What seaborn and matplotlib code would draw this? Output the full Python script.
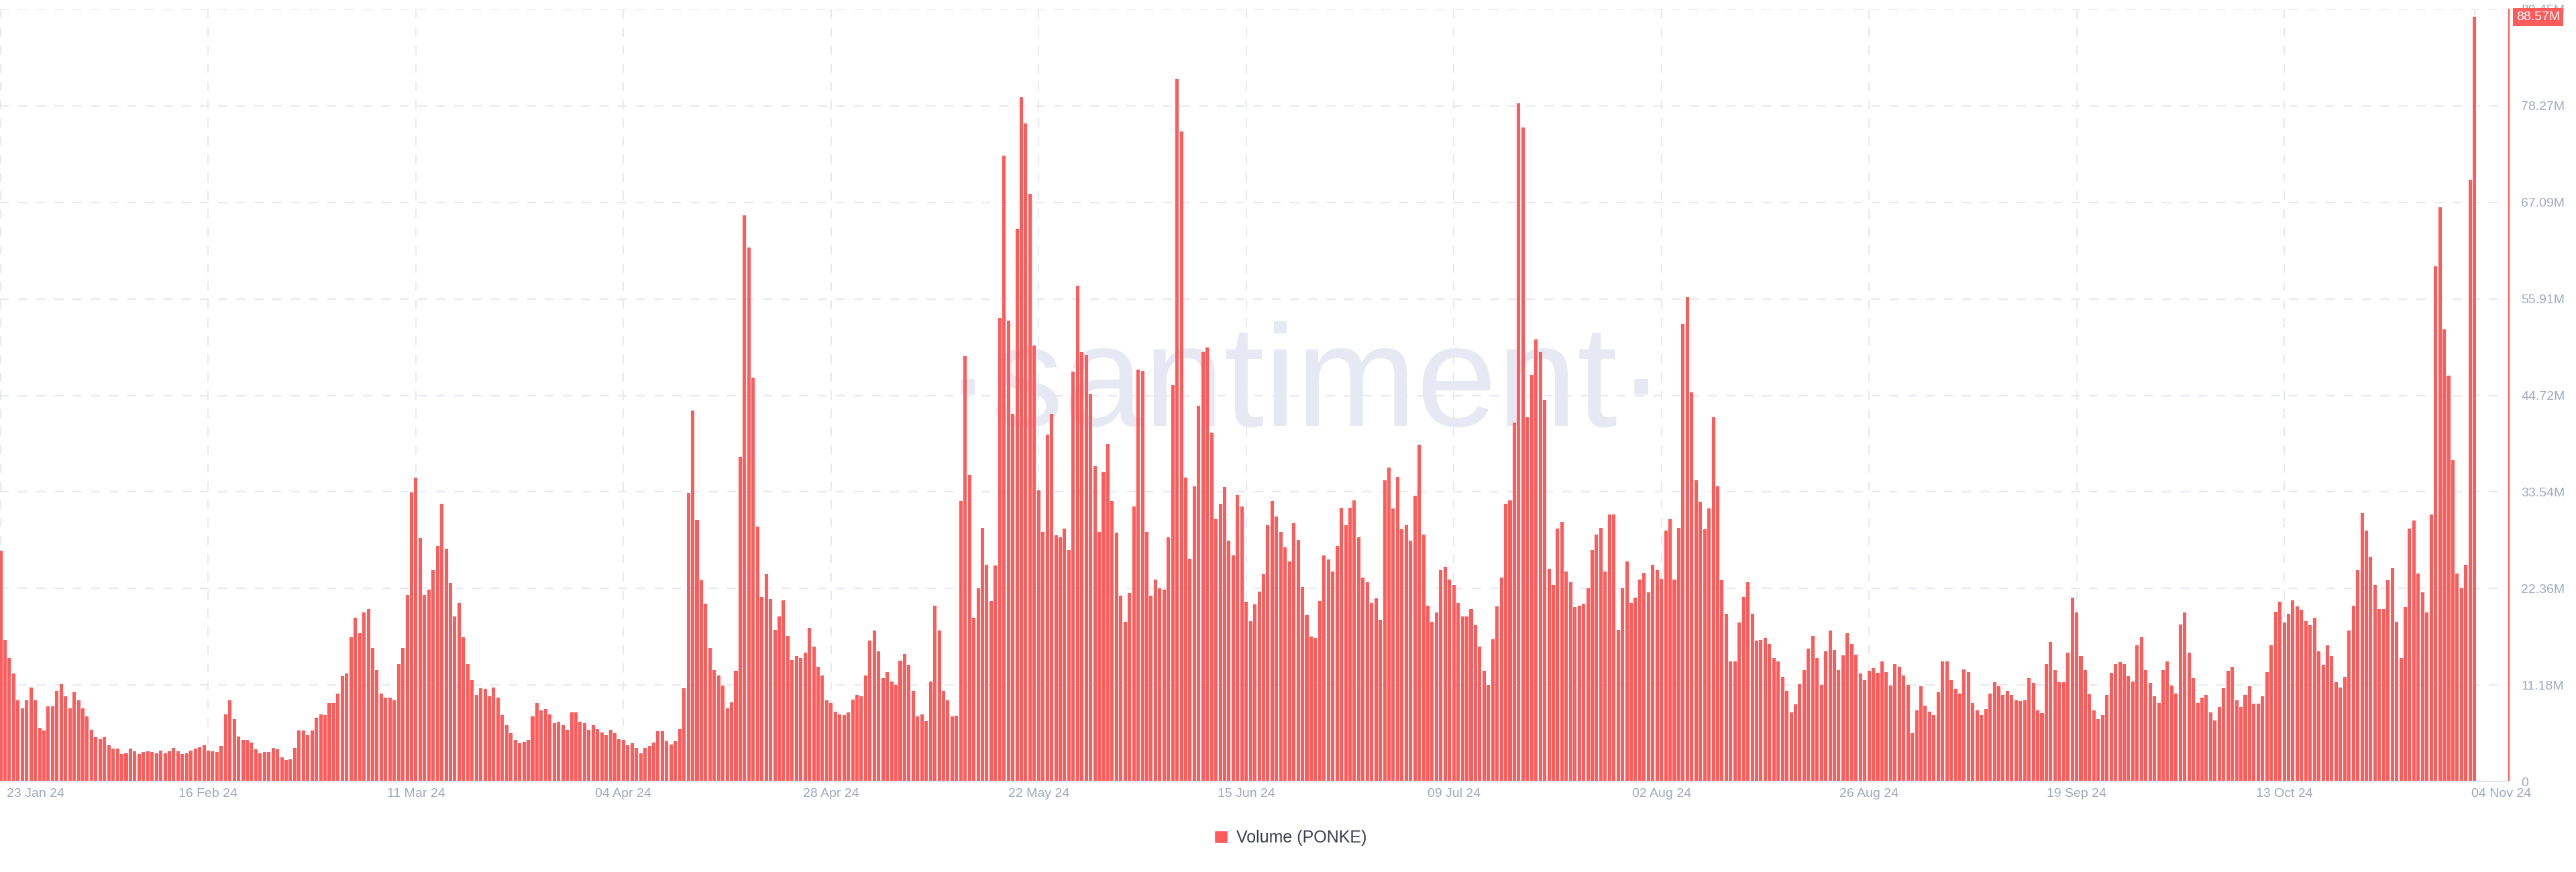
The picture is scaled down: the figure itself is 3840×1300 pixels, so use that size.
import numpy as np
import pandas as pd
import matplotlib
matplotlib.use("Agg")
import matplotlib.pyplot as plt
import matplotlib.transforms as mtransforms
from matplotlib.patches import Patch
import seaborn as sns

# volume in millions, two bars per day left to right
vol_jan_feb = [26.7, 16.4, 14.3, 12.5, 9.4, 8.5, 9.4, 10.9, 9.4, 6.2,
               5.9, 8.7, 8.7, 10.5, 11.3, 9.9, 8.5, 10.3, 9.4, 8.5,
               7.5, 6.0, 5.1, 4.9, 5.1, 4.2, 3.8, 3.8, 3.2, 3.3,
               3.8, 3.5, 3.2, 3.4, 3.5, 3.4, 3.3, 3.6, 3.3, 3.5,
               3.9, 3.5, 3.2, 3.3, 3.6, 3.8, 4.0, 4.2, 3.6, 3.5,
               3.4, 4.1, 7.8, 9.4, 7.2, 5.2, 4.8, 4.8]
vol_feb_mar = [4.5, 3.7, 3.3, 3.4, 3.4, 3.9, 3.7, 2.8, 2.5, 2.6,
               3.9, 5.9, 5.9, 5.4, 5.9, 7.4, 7.8, 7.7, 9.1, 9.1,
               10.2, 12.2, 12.5, 16.7, 19.0, 17.2, 19.6, 20.0, 15.5, 12.9,
               10.2, 9.7, 9.7, 9.4, 13.6, 15.5, 21.6, 33.5, 35.2, 28.2,
               21.6, 22.2, 24.5, 27.3, 32.2, 27.0, 23.0, 19.1, 20.7, 16.7,
               13.6, 11.7, 10.0, 10.8, 10.7, 9.9, 10.9]
vol_mar_apr = [9.7, 7.7, 6.5, 5.6, 4.8, 4.4, 4.6, 4.8, 7.5, 9.1,
               8.2, 8.4, 7.8, 6.8, 6.9, 6.5, 6.0, 8.0, 8.0, 6.9,
               6.8, 6.0, 6.5, 6.1, 5.7, 5.4, 6.0, 5.6, 4.9, 4.8,
               4.2, 4.4, 3.9, 3.3, 3.9, 4.1, 4.5, 5.8, 5.8, 4.7,
               4.3, 4.7, 6.1, 10.8, 33.4, 43.0, 30.3, 23.3, 20.6, 15.5,
               12.9, 12.3, 11.1, 8.5, 9.2, 12.8, 37.6]
vol_apr_may = [65.6, 61.9, 46.8, 29.5, 21.4, 24.0, 21.1, 17.6, 19.1, 21.0,
               16.9, 14.1, 14.5, 14.3, 14.9, 17.8, 15.6, 13.3, 12.3, 9.4,
               9.1, 8.1, 7.8, 7.7, 8.0, 9.5, 10.0, 9.9, 12.3, 16.3,
               17.5, 15.1, 12.0, 12.7, 11.6, 11.2, 14.0, 14.8, 13.5, 10.5,
               7.5, 7.8, 7.0, 11.6, 20.4, 17.5, 10.5, 9.4, 7.5, 7.6,
               32.5, 49.3, 35.5, 19.0, 22.4, 29.4, 25.1, 20.9]
vol_may_jun = [25.0, 53.7, 72.5, 53.4, 42.6, 64.0, 79.3, 76.2, 68.1, 50.5,
               33.7, 28.9, 40.2, 42.6, 28.5, 28.3, 29.3, 26.8, 47.5, 57.4,
               49.7, 49.4, 44.9, 36.5, 28.9, 35.8, 39.1, 32.5, 28.8, 21.5,
               18.5, 21.8, 31.9, 47.7, 47.6, 28.9, 21.5, 23.4, 22.4, 22.2,
               28.3, 45.9, 81.4, 75.3, 35.2, 25.8, 34.2, 43.5, 49.7, 50.3,
               40.4, 30.4, 32.2, 34.1, 27.9, 26.2, 33.2]
vol_jun_jul = [31.9, 20.8, 18.6, 20.5, 22.0, 24.0, 29.7, 32.5, 30.7, 28.9,
               27.1, 25.5, 29.9, 28.0, 22.5, 19.3, 16.8, 16.6, 20.9, 26.2,
               25.7, 24.3, 27.3, 31.7, 29.7, 31.7, 32.6, 28.3, 23.6, 23.1,
               20.7, 21.2, 18.7, 34.9, 36.4, 31.6, 35.3, 29.2, 29.7, 27.9,
               33.1, 39.0, 28.6, 20.4, 18.5, 19.6, 24.5, 24.9, 23.4, 22.8,
               20.7, 19.1, 19.1, 20.0, 18.1, 15.6, 12.8, 11.2]
vol_jul_aug = [16.5, 20.3, 23.6, 32.2, 32.6, 41.6, 78.6, 75.8, 42.2, 47.1,
               51.2, 49.7, 44.2, 24.6, 22.8, 29.3, 30.1, 24.3, 23.1, 20.2,
               20.4, 20.6, 22.4, 26.8, 28.6, 29.4, 24.3, 30.9, 30.9, 17.6,
               22.4, 25.5, 20.7, 21.3, 23.4, 24.2, 21.9, 25.1, 24.5, 23.5,
               29.1, 30.4, 23.4, 29.4, 53.0, 56.1, 45.1, 34.9, 32.4, 29.2,
               31.6, 42.2, 34.2, 23.3, 19.4, 13.9, 13.9]
vol_aug_sep = [18.4, 21.4, 23.1, 19.4, 16.3, 16.4, 16.6, 15.9, 14.3, 13.9,
               12.1, 10.5, 8.0, 8.9, 11.3, 12.9, 15.4, 16.9, 14.3, 11.2,
               15.1, 17.5, 15.2, 12.9, 14.6, 17.2, 15.9, 14.7, 12.5, 11.7,
               12.8, 13.1, 12.6, 13.9, 12.7, 11.1, 13.6, 13.3, 12.3, 11.2,
               5.6, 8.2, 11.0, 8.8, 8.1, 7.7, 10.3, 13.9, 13.9, 11.7,
               10.7, 10.2, 13.0, 12.7, 9.1, 8.2, 7.7]
vol_sep_oct = [8.4, 10.2, 11.5, 11.0, 10.0, 10.5, 10.0, 9.4, 9.3, 9.4,
               12.0, 11.4, 8.2, 7.9, 13.6, 16.2, 12.9, 11.5, 11.5, 14.9,
               21.3, 19.6, 14.5, 12.9, 10.1, 8.2, 7.2, 7.7, 10.0, 12.6,
               13.6, 13.8, 13.6, 12.2, 11.6, 15.8, 16.7, 12.9, 11.4, 9.9,
               9.1, 12.9, 13.9, 11.1, 10.2, 18.2, 19.6, 14.9, 12.0, 9.1,
               9.7, 10.0, 8.0, 7.1, 8.6, 10.8, 12.8, 13.3]
vol_oct_nov = [9.4, 8.6, 10.0, 11.0, 9.0, 9.0, 9.9, 12.7, 15.8, 19.7,
               20.8, 18.4, 19.4, 21.0, 20.3, 19.9, 18.6, 18.1, 19.0, 15.1,
               13.5, 15.8, 14.5, 11.5, 10.9, 12.1, 17.5, 20.4, 24.5, 31.1,
               29.1, 26.0, 22.8, 20.0, 20.0, 23.3, 24.7, 18.5, 14.3, 20.2,
               29.3, 30.2, 24.1, 21.9, 19.6, 30.9, 59.7, 66.5, 52.4, 47.0,
               37.2, 24.1, 22.4, 25.1, 69.7, 88.57]

volume_m = (vol_jan_feb + vol_feb_mar + vol_mar_apr + vol_apr_may + vol_may_jun
            + vol_jun_jul + vol_jul_aug + vol_aug_sep + vol_sep_oct + vol_oct_nov)

start_date = "2024-01-23"
slots_per_day = 2
tick_dates = ["2024-01-23", "2024-02-16", "2024-03-11", "2024-04-04", "2024-04-28",
              "2024-05-22", "2024-06-15", "2024-07-09", "2024-08-02", "2024-08-26",
              "2024-09-19", "2024-10-13", "2024-11-04"]
tick_labels = ["23 Jan 24", "16 Feb 24", "11 Mar 24", "04 Apr 24", "28 Apr 24",
               "22 May 24", "15 Jun 24", "09 Jul 24", "02 Aug 24", "26 Aug 24",
               "19 Sep 24", "13 Oct 24", "04 Nov 24"]
y_ticks = [0, 11.18, 22.36, 33.54, 44.72, 55.91, 67.09, 78.27, 89.45]
y_tick_labels = ["0", "11.18M", "22.36M", "33.54M", "44.72M", "55.91M", "67.09M", "78.27M", "89.45M"]
last_label = "88.57M"
series_name = "Volume (PONKE)"

RED = "#ff5b5b"
GRID = "#e7e9f2"
TICK = "#a0a9c3"
WATER = "#e6e9f3"

sns.set_theme(style="white")
plt.rcParams['font.family'] = ['Liberation Sans', 'DejaVu Sans']

df = pd.DataFrame({'slot': np.arange(len(volume_m)), 'volume': volume_m})
tick_slots = ((pd.to_datetime(tick_dates) - pd.Timestamp(start_date)).days * slots_per_day).tolist()

fig = plt.figure(figsize=(38.4, 13), dpi=100)
ax = fig.add_axes([0.0, 1 - 1165 / 1300, 3740 / 3840, 1151 / 1300])

# watermark behind the bars
ax.text(0.52, 0.4605, "\u00b7santiment\u00b7", transform=ax.transAxes, ha='center', va='baseline',
        fontsize=155, color=WATER, zorder=0.3)

sns.barplot(data=df, x='slot', y='volume', color=RED, saturation=1, width=0.78,
            errorbar=None, linewidth=0, ax=ax, zorder=2)

ax.set_xlim(-0.16, 579.96)
ax.set_ylim(0, y_ticks[-1])
ax.set_xlabel('')
ax.set_ylabel('')

ax.set_xticks(tick_slots)
ax.set_xticklabels(tick_labels)
ax.tick_params(axis='x', length=0, pad=7, labelsize=14, labelcolor=TICK)
lbls = ax.get_xticklabels()
lbls[0].set_ha('left')
lbls[0].set_transform(lbls[0].get_transform() + mtransforms.ScaledTranslation(0.09, 0, fig.dpi_scale_trans))
lbls[-1].set_transform(lbls[-1].get_transform() + mtransforms.ScaledTranslation(0.40, 0, fig.dpi_scale_trans))

ax.yaxis.tick_right()
ax.set_yticks(y_ticks)
ax.set_yticklabels(y_tick_labels)
ax.tick_params(axis='y', length=0, pad=13, labelsize=14, labelcolor=TICK)

ax.set_axisbelow(True)
ax.grid(True, axis='both', color=GRID, linewidth=1.5, linestyle=(0, (6.5, 6.5)))

for s in ['left', 'top']:
    ax.spines[s].set_visible(False)
ax.spines['right'].set_color(RED)
ax.spines['right'].set_linewidth(1.6)
ax.spines['bottom'].set_color('#e3e6ef')
ax.spines['bottom'].set_linewidth(1.5)

ax.annotate(last_label, xy=(1, volume_m[-1]), xycoords=('axes fraction', 'data'),
            xytext=(8, 0), textcoords='offset points', ha='left', va='center',
            fontsize=14, color='white', zorder=5, annotation_clip=False,
            bbox=dict(boxstyle='square,pad=0.25', fc=RED, ec='none'))

fig.legend(handles=[Patch(facecolor=RED, label=series_name)], loc='center',
           bbox_to_anchor=(0.501, 0.039), frameon=False, fontsize=18,
           handlelength=0.8, handleheight=0.8, handletextpad=0.5, labelcolor='#3a3f4f')

fig.savefig('out.png', dpi=100)
